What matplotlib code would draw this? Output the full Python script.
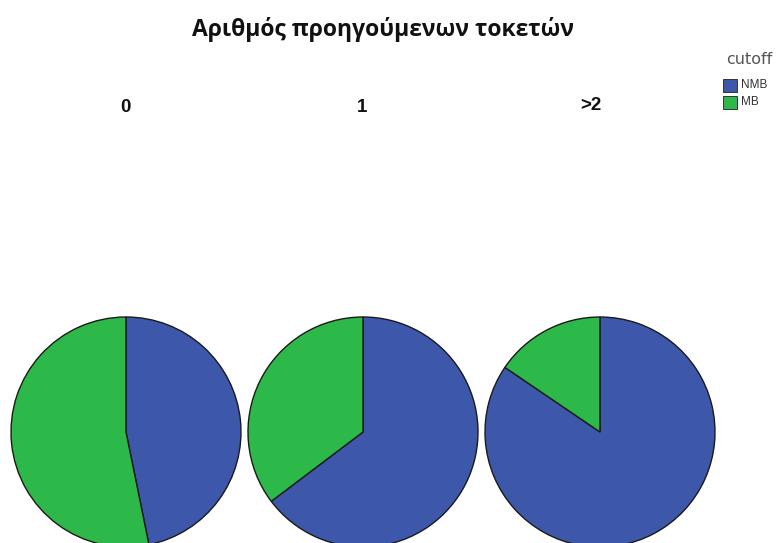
import matplotlib
matplotlib.use("Agg")
import matplotlib.pyplot as plt
from matplotlib.patches import Rectangle

title = "Αριθμός προηγούμενων τοκετών"
groups = ["0", "1", ">2"]
series = ["NMB", "MB"]
nmb_pct = [46.8, 64.7, 84.5]
mb_pct = [53.2, 35.3, 15.5]
colors = ["#3D57AA", "#2DB84A"]

W, H = 776, 543
fig = plt.figure(figsize=(W / 100, H / 100), dpi=100)
ax = fig.add_axes([0, 0, 1, 1])
ax.set_xlim(0, W)
ax.set_ylim(0, H)
ax.set_aspect("equal")
ax.axis("off")

centers_x = [126, 363, 600]
label_x = [125, 362, 591]
label_y = [108, 108, 105]
cy = H - 432
r = 115
for i, g in enumerate(groups):
    ax.pie([nmb_pct[i], mb_pct[i]], colors=colors, startangle=90, counterclock=False,
           center=(centers_x[i], cy), radius=r, frame=True,
           wedgeprops=dict(edgecolor="#1a1a1a", linewidth=1.0))
    ax.text(label_x[i], H - label_y[i], g, ha="center", va="center",
            fontsize=13.5, fontweight="bold", family="Liberation Sans", color="#111111")
ax.set_xlim(0, W)
ax.set_ylim(0, H)
ax.axis("off")

ax.text(383.5, H - 29, title, ha="center", va="center", fontsize=16.5,
        fontweight="bold", family="Open Sans", color="#111111")

# legend
ax.text(749, H - 59, "cutoff", ha="center", va="center", fontsize=11.5,
        family="DejaVu Sans", color="#555555")
for j, s in enumerate(series):
    y = H - 85 - j * 17
    ax.add_patch(Rectangle((723, y - 6.5), 14, 13, facecolor=colors[j],
                           edgecolor="#333333", linewidth=0.7))
    ax.text(741, y, s, ha="left", va="center", fontsize=8.5,
            family="Liberation Sans", color="#333333")

fig.savefig("out.png", dpi=100)
